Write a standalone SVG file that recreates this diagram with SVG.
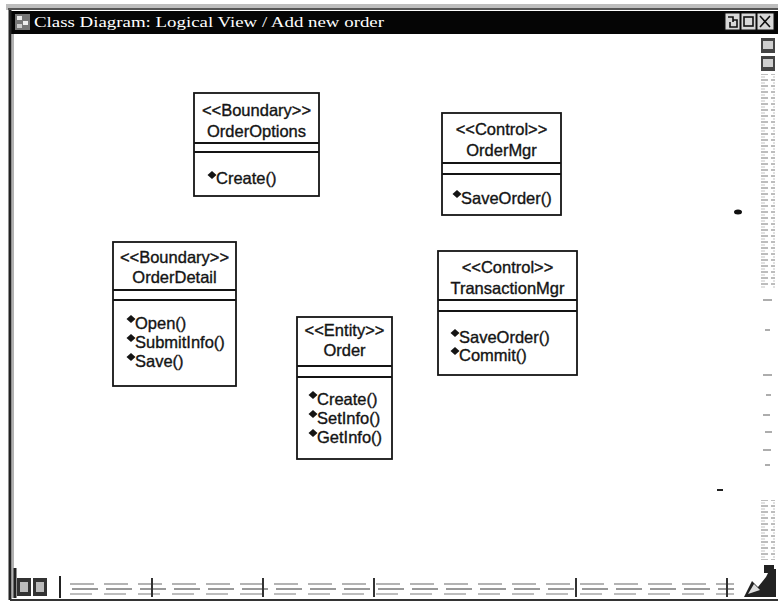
<svg xmlns="http://www.w3.org/2000/svg" width="778" height="603" viewBox="0 0 778 603">
<defs>
<style>
.box{fill:#fff;stroke:#141414;stroke-width:1.8}
.sep{stroke:#141414;stroke-width:1.8}
.t{font-family:"Liberation Sans",Arial,sans-serif;font-size:16.5px;fill:#141414;stroke:#141414;stroke-width:0.35}
.c{text-anchor:middle}
.dia{fill:#141414}
.title{font-family:"Liberation Serif","Times New Roman",serif;font-size:15px;fill:#fff}
.dash{stroke:#777;stroke-width:1.2}
</style>
<polygon id="d" points="0,-4 4.5,0 0,4 -4.5,0" class="dia"/>
<pattern id="scrl" width="14" height="6" patternUnits="userSpaceOnUse">
<rect width="14" height="6" fill="#fff"/>
<line x1="1" y1="2" x2="12" y2="2" stroke="#9a9a9a" stroke-width="1.3"/>
<line x1="3" y1="5" x2="9" y2="5" stroke="#c4c4c4" stroke-width="1"/>
</pattern>
<pattern id="hscr" width="34" height="20" patternUnits="userSpaceOnUse">
<rect width="34" height="20" fill="#fff"/>
<line x1="2" y1="4" x2="26" y2="4" stroke="#8a8a8a" stroke-width="1.3"/>
<line x1="4" y1="9" x2="30" y2="9" stroke="#777" stroke-width="1.5"/>
<line x1="2" y1="14" x2="24" y2="14" stroke="#999" stroke-width="1.3"/>
</pattern>
</defs>
<rect width="778" height="603" fill="#fff"/>
<!-- window frame -->
<rect x="6" y="4" width="772" height="6" fill="#bdbdbd"/>
<line x1="8" y1="9" x2="778" y2="9" stroke="#333" stroke-width="1.5"/>
<rect x="10" y="11" width="768" height="23" fill="#050505"/>
<line x1="10" y1="10" x2="10" y2="600" stroke="#222" stroke-width="3"/>
<line x1="13" y1="34" x2="13" y2="598" stroke="#999" stroke-width="1.5"/>
<line x1="10" y1="600" x2="778" y2="600" stroke="#333" stroke-width="2"/>
<!-- title icon -->
<g>
<rect x="15" y="14" width="15" height="16" fill="#777"/>
<rect x="17" y="16" width="5" height="4" fill="#eee"/>
<rect x="23" y="21" width="5" height="4" fill="#eee"/>
<rect x="17" y="24" width="5" height="4" fill="#ccc"/>
</g>
<text class="title" x="34" y="27" textLength="350" lengthAdjust="spacingAndGlyphs">Class Diagram: Logical View / Add new order</text>
<!-- window buttons -->
<g stroke="#111" stroke-width="1">
<rect x="725" y="13" width="15" height="17" fill="#d8d8d8"/>
<rect x="741" y="13" width="15" height="17" fill="#d8d8d8"/>
<rect x="757" y="13" width="17" height="17" fill="#d8d8d8"/>
</g>
<g fill="none" stroke="#111" stroke-width="1.6">
<path d="M728,17 h5 v5 M733,20 h4 v7 h-7 v-5"/>
<rect x="744" y="17" width="9" height="9"/>
<path d="M760,16 l10,11 M770,16 l-10,11"/>
</g>
<!-- right scroll bar -->
<rect x="758" y="36" width="18" height="540" fill="#fff"/>
<rect x="761" y="38" width="14" height="15" fill="#444"/>
<rect x="763" y="41" width="10" height="8" fill="#cfcfcf"/>
<rect x="761" y="56" width="14" height="15" fill="#444"/>
<rect x="763" y="59" width="10" height="8" fill="#cfcfcf"/>
<rect x="761" y="74" width="14" height="215" fill="url(#scrl)"/>
<g class="dash">
<line x1="763" y1="300" x2="772" y2="300"/>
<line x1="765" y1="330" x2="770" y2="330"/>
<line x1="763" y1="375" x2="772" y2="375"/>
<line x1="766" y1="395" x2="771" y2="395"/>
<line x1="763" y1="415" x2="770" y2="415"/>
<line x1="765" y1="432" x2="772" y2="432"/>
<line x1="763" y1="450" x2="771" y2="450"/>
<line x1="765" y1="465" x2="770" y2="465"/>
</g>
<rect x="761" y="500" width="14" height="60" fill="url(#scrl)"/>
<!-- bottom scroll bar -->
<line x1="15" y1="568" x2="15" y2="598" stroke="#222" stroke-width="3"/>
<rect x="17" y="578" width="14" height="18" fill="#333"/>
<rect x="20" y="582" width="8" height="10" fill="#bbb"/>
<rect x="33" y="578" width="14" height="18" fill="#333"/>
<rect x="36" y="582" width="8" height="10" fill="#bbb"/>
<line x1="60" y1="576" x2="60" y2="598" stroke="#222" stroke-width="2"/>
<rect x="64" y="577" width="670" height="20" fill="url(#hscr)"/>
<g stroke="#333" stroke-width="2">
<line x1="152" y1="578" x2="152" y2="597"/>
<line x1="263" y1="578" x2="263" y2="597"/>
<line x1="374" y1="578" x2="374" y2="597"/>
<line x1="576" y1="578" x2="576" y2="597"/>
<line x1="727" y1="578" x2="727" y2="597"/>
</g>
<g fill="#222">
<path d="M744,597 l8,-16 l6,6 l8,-10 l4,-8 h6 v28 z"/>
<rect x="764" y="565" width="10" height="8"/>
</g>
<path d="M748,594 l6,-10 l6,6 z" fill="#ddd"/>
<!-- scan specks -->
<ellipse cx="738" cy="212" rx="4" ry="2.5" fill="#111"/>
<rect x="717" y="489" width="6" height="2" fill="#222"/>

<g id="connectors"></g>

<g id="OrderOptions">
<rect class="box" x="194" y="93" width="125" height="103"/>
<line class="sep" x1="194" y1="143" x2="319" y2="143"/>
<line class="sep" x1="194" y1="152" x2="319" y2="152"/>
<text class="t c" x="256.5" y="116">&lt;&lt;Boundary&gt;&gt;</text>
<text class="t c" x="256.5" y="137">OrderOptions</text>
<use href="#d" x="212" y="175"/>
<text class="t" x="216" y="184">Create()</text>
</g>

<g id="OrderMgr">
<rect class="box" x="442" y="113" width="119" height="102"/>
<line class="sep" x1="442" y1="163" x2="561" y2="163"/>
<line class="sep" x1="442" y1="174" x2="561" y2="174"/>
<text class="t c" x="501.5" y="135">&lt;&lt;Control&gt;&gt;</text>
<text class="t c" x="501.5" y="156">OrderMgr</text>
<use href="#d" x="457" y="194"/>
<text class="t" x="461" y="204">SaveOrder()</text>
</g>

<g id="OrderDetail">
<rect class="box" x="113" y="242" width="123" height="144"/>
<line class="sep" x1="113" y1="290" x2="236" y2="290"/>
<line class="sep" x1="113" y1="300" x2="236" y2="300"/>
<text class="t c" x="174.5" y="263">&lt;&lt;Boundary&gt;&gt;</text>
<text class="t c" x="174.5" y="283">OrderDetail</text>
<use href="#d" x="131" y="319"/>
<text class="t" x="135" y="329">Open()</text>
<use href="#d" x="131" y="338"/>
<text class="t" x="135" y="348">SubmitInfo()</text>
<use href="#d" x="131" y="357"/>
<text class="t" x="135" y="367">Save()</text>
</g>

<g id="Order">
<rect class="box" x="297" y="317" width="95" height="142"/>
<line class="sep" x1="297" y1="366" x2="392" y2="366"/>
<line class="sep" x1="297" y1="377" x2="392" y2="377"/>
<text class="t c" x="344.5" y="336">&lt;&lt;Entity&gt;&gt;</text>
<text class="t c" x="344.5" y="356">Order</text>
<use href="#d" x="313" y="395"/>
<text class="t" x="317" y="405">Create()</text>
<use href="#d" x="313" y="414"/>
<text class="t" x="317" y="424">SetInfo()</text>
<use href="#d" x="313" y="433"/>
<text class="t" x="317" y="443">GetInfo()</text>
</g>

<g id="TransactionMgr">
<rect class="box" x="438" y="251" width="139" height="124"/>
<line class="sep" x1="438" y1="300" x2="577" y2="300"/>
<line class="sep" x1="438" y1="311" x2="577" y2="311"/>
<text class="t c" x="507.5" y="273">&lt;&lt;Control&gt;&gt;</text>
<text class="t c" x="507.5" y="294">TransactionMgr</text>
<use href="#d" x="455" y="333"/>
<text class="t" x="459" y="343">SaveOrder()</text>
<use href="#d" x="455" y="351"/>
<text class="t" x="459" y="361">Commit()</text>
</g>
</svg>
